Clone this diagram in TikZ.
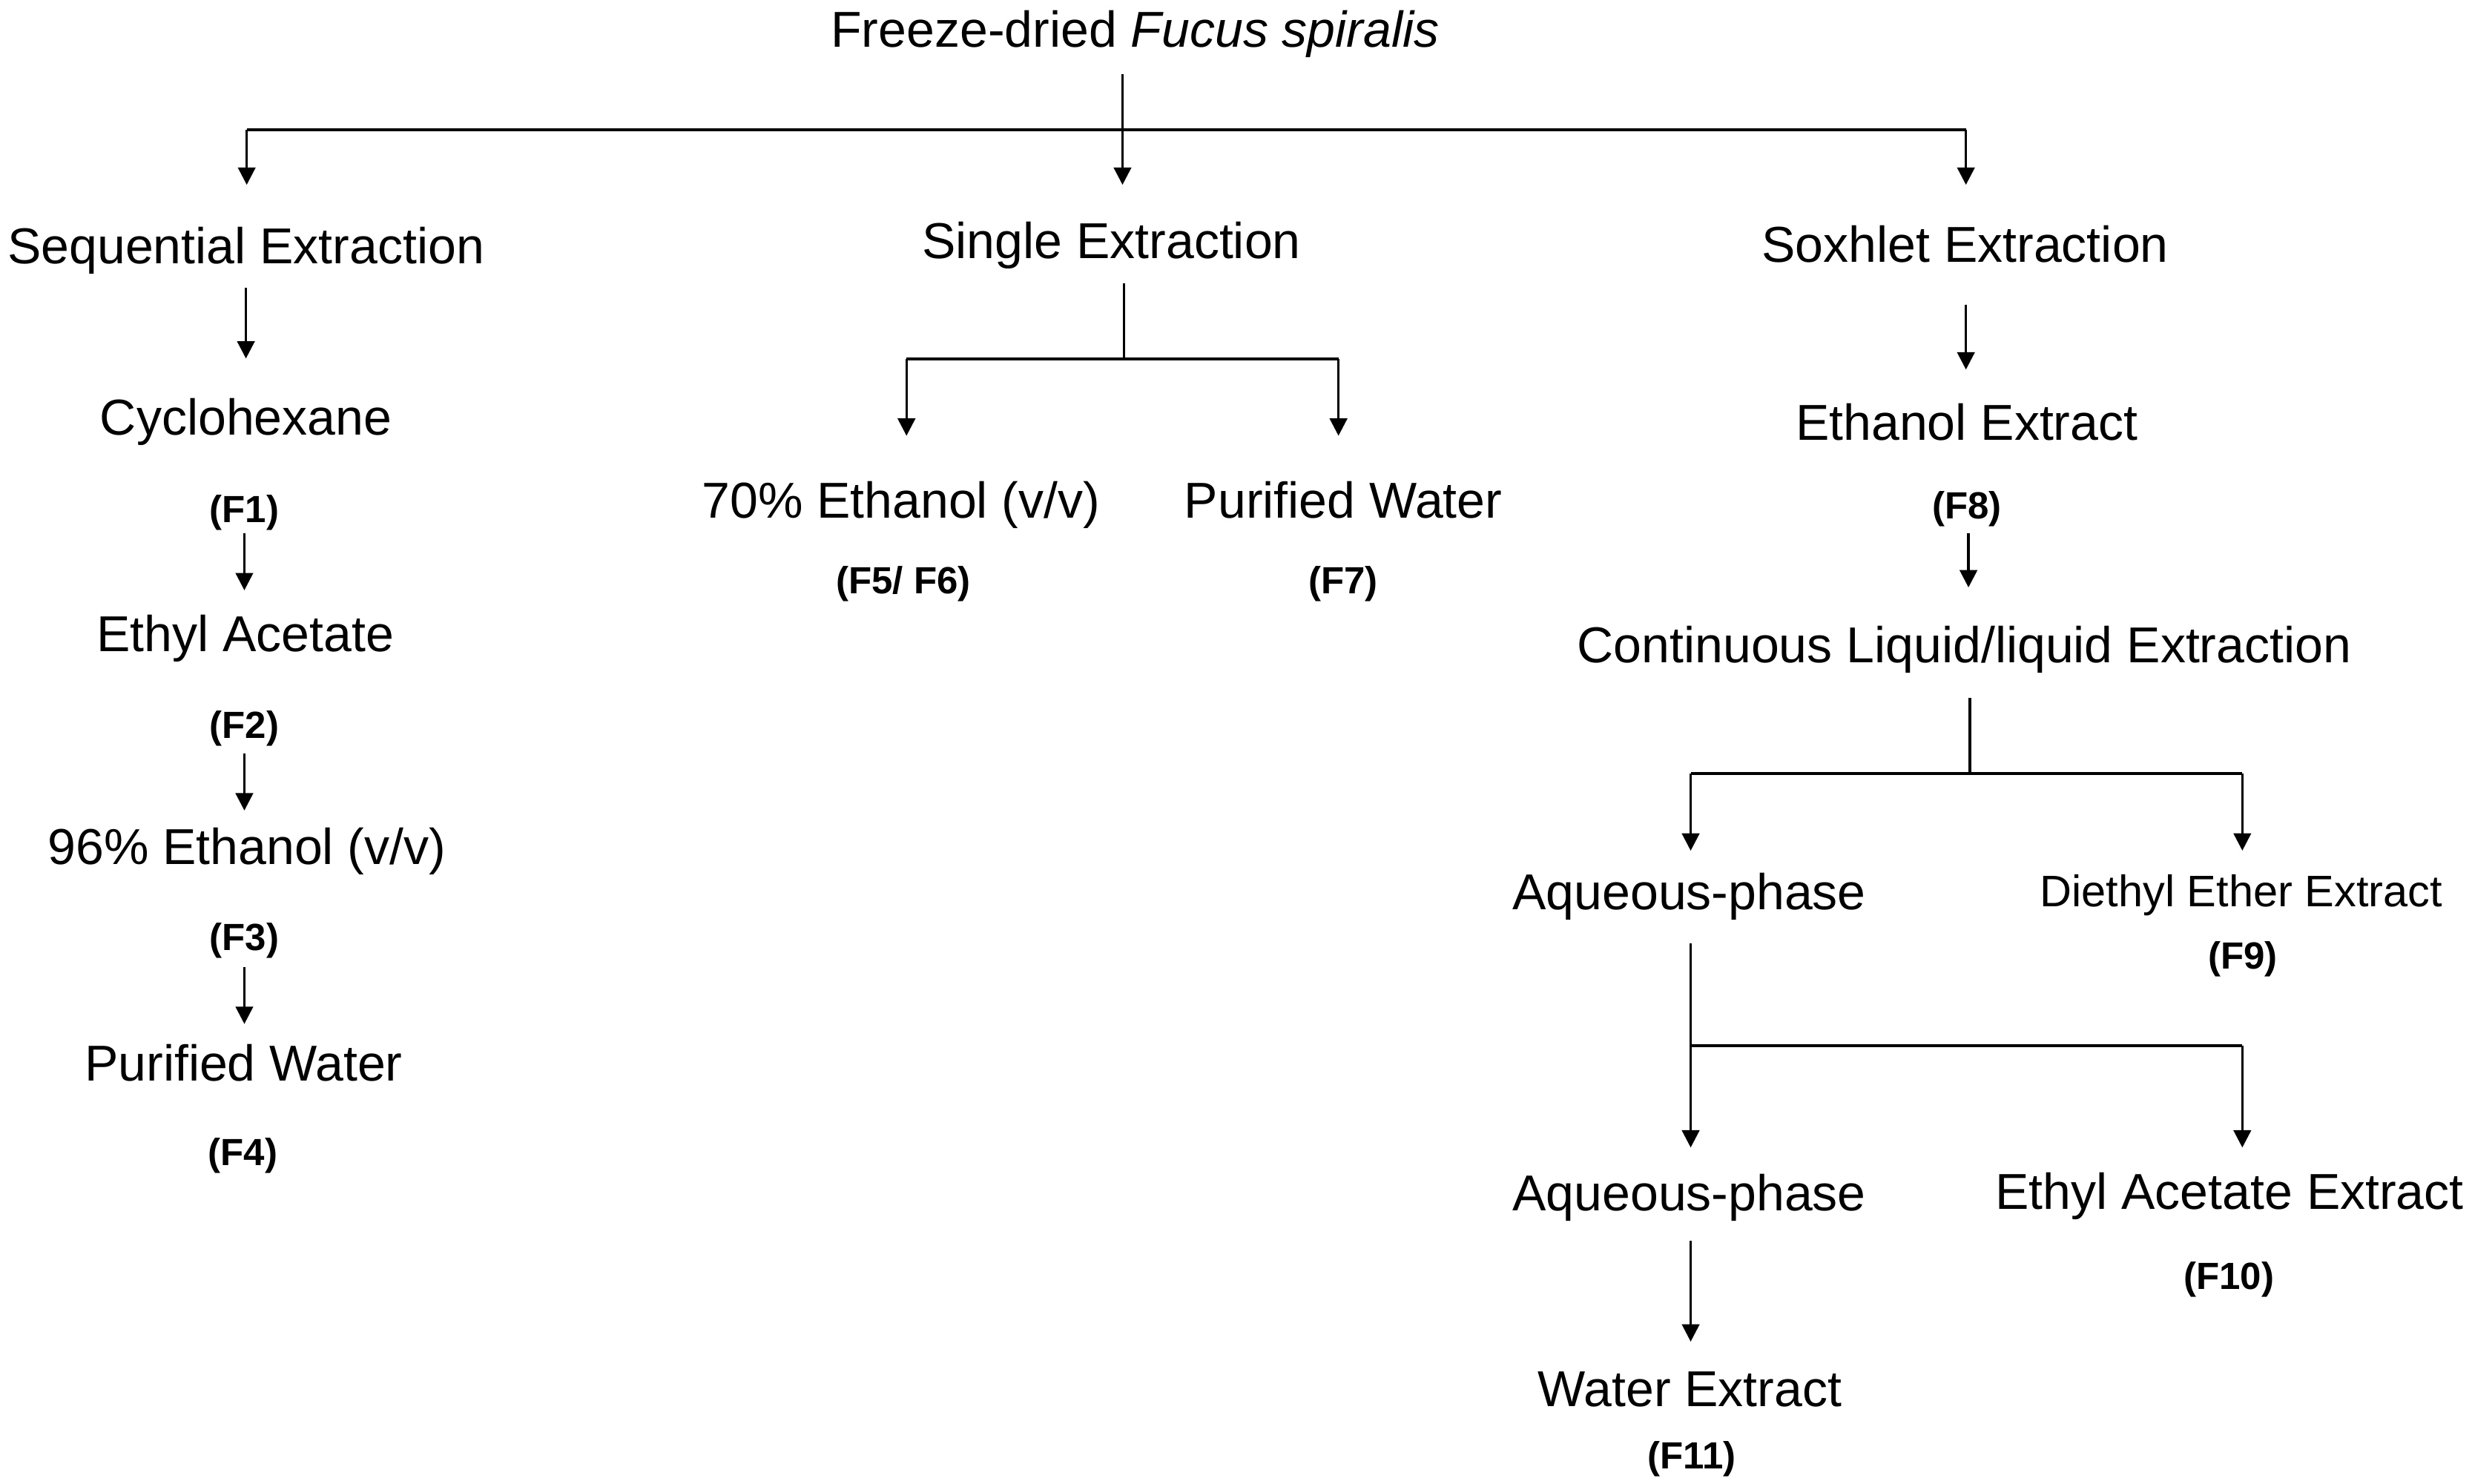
\documentclass[tikz,border=0pt]{standalone}
\usepackage{fontspec}
\setmainfont{Liberation Sans}
\usetikzlibrary{arrows.meta,calc}
\tikzset{
  txt/.style={inner sep=0pt, anchor=center, text height=11.46pt, text depth=0pt, font=\fontsize{16}{19}\selectfont},
  smalltxt/.style={inner sep=0pt, anchor=center, text height=10.02pt, text depth=0pt, font=\fontsize{14}{17}\selectfont},
  flabel/.style={inner sep=0pt, anchor=center, text height=8.59pt, text depth=0pt, font=\bfseries\fontsize{12}{14}\selectfont},
  ln/.style={line width=0.8pt},
  barline/.style={line width=0.95pt},
  arr/.style={ln, -{Triangle[width=5.5pt,length=5.5pt]}}
}
\begin{document}
\begin{tikzpicture}[x=0.5pt,y=-0.5pt]
\path[use as bounding box] (0,0) rectangle (1568,941);

% ---- nodes ----
\node[txt] (title) at (720,18.5) {Freeze-dried \textit{Fucus spiralis}};
\node[txt] (seq) at (156,156) {Sequential Extraction};
\node[txt] (single) at (705,152.5) {Single Extraction};
\node[txt] (sox) at (1246.5,155) {Soxhlet Extraction};

\node[txt] (cyc) at (156,264.5) {Cyclohexane};
\node[flabel] (f1) at (155,323) {(F1)};
\node[txt] (ethac) at (155.5,402) {Ethyl Acetate};
\node[flabel] (f2) at (155,459.8) {(F2)};
\node[txt] (eth96) at (156.6,536.7) {96\% Ethanol (v/v)};
\node[flabel] (f3) at (155,594.3) {(F3)};
\node[txt] (pw1) at (154.5,674.1) {Purified Water};
\node[flabel] (f4) at (154,730.5) {(F4)};

\node[txt] (eth70) at (571.5,317) {70\% Ethanol (v/v)};
\node[txt] (pw2) at (852,317) {Purified Water};
\node[flabel] (f56) at (573,367.8) {(F5/ F6)};
\node[flabel] (f7) at (852,367.8) {(F7)};

\node[txt] (ethext) at (1247.5,267.8) {Ethanol Extract};
\node[flabel] (f8) at (1247.6,320.5) {(F8)};
\node[txt] (clle) at (1246,408.7) {Continuous Liquid/liquid Extraction};
\node[txt] (aq1) at (1071.5,565.6) {Aqueous-phase};
\node[smalltxt] (dee) at (1421.6,565.2) {Diethyl Ether Extract};
\node[flabel] (f9) at (1422.7,606.1) {(F9)};
\node[txt] (aq2) at (1071.5,756.7) {Aqueous-phase};
\node[txt] (eae) at (1414.2,755.7) {Ethyl Acetate Extract};
\node[flabel] (f10) at (1413.7,809.3) {(F10)};
\node[txt] (water) at (1071.9,880.8) {Water Extract};
\node[flabel] (f11) at (1073,923.3) {(F11)};

% ---- junction coordinates ----
\coordinate (j0) at (712,82.3);
\coordinate (j0l) at (156.5,82.3);
\coordinate (j0r) at (1247,82.3);
\coordinate (j1) at (713,227.9);
\coordinate (j1l) at (575,227.9);
\coordinate (j1r) at (849,227.9);
\coordinate (j2) at (1249.5,490.6);
\coordinate (j2l) at (1072.4,490.6);
\coordinate (j2r) at (1422.3,490.6);
\coordinate (j3) at (1072.4,663.1);
\coordinate (j3r) at (1422.3,663.1);

% ---- top level ----
\draw[ln] ($(j0|-title.south)+(0,16.6)$) -- (j0);
\draw[barline] (j0l) -- (j0r);
\draw[arr] (j0l) -- ($(j0l|-seq.north)+(0,-26.9)$);
\draw[arr] (j0) -- ($(j0|-single.north)+(0,-23.4)$);
\draw[arr] (j0r) -- ($(j0r|-sox.north)+(0,-25.9)$);

% ---- sequential ----
\draw[arr] ($(seq.south)+(0,14.8)$) -- ($(cyc.north)+(0,-25.2)$);
\draw[arr] ($(f1.south)+(0,6.2)$) -- ($(f1.south|-ethac.north)+(0,-15.7)$);
\draw[arr] ($(f2.south)+(0,9)$) -- ($(f2.south|-eth96.north)+(0,-10.7)$);
\draw[arr] ($(f3.south)+(0,10.1)$) -- ($(f3.south|-pw1.north)+(0,-12.7)$);

% ---- single ----
\draw[ln] ($(j1|-single.south)+(0,15.2)$) -- (j1);
\draw[barline] (j1l) -- (j1r);
\draw[arr] (j1l) -- ($(j1l|-eth70.north)+(0,-28.7)$);
\draw[arr] (j1r) -- ($(j1r|-pw2.north)+(0,-28.7)$);

% ---- soxhlet ----
\draw[arr] ($(sox.south)+(0.5,26.3)$) -- ($(ethext.north)+(-0.5,-21.5)$);
\draw[arr] ($(f8.south)+(1,8.6)$) -- ($(f8.south|-clle.north)+(1,-24.2)$);
\draw[ln] ($(j2|-clle.south)+(0,22.1)$) -- (j2);
\draw[barline] (j2l) -- (j2r);
\draw[arr] (j2l) -- ($(j2l|-aq1.north)+(0,-14.1)$);
\draw[arr] (j2r) -- ($(j2r|-dee.north)+(0,-15.2)$);
\draw[arr] ($(j3|-aq1.south)+(0,21.1)$) -- ($(j3|-aq2.north)+(0,-16.9)$);
\draw[barline] (j3) -- (j3r);
\draw[arr] (j3r) -- ($(j3r|-eae.north)+(0,-15.9)$);
\draw[arr] ($(j3|-aq2.south)+(0,18.4)$) -- ($(j3|-water.north)+(0,-17.9)$);
\end{tikzpicture}
\end{document}
